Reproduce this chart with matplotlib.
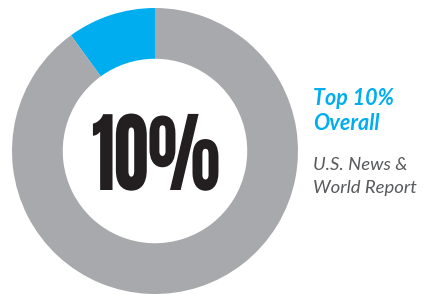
import matplotlib.pyplot as plt
from matplotlib.patheffects import AbstractPathEffect
from matplotlib.transforms import Affine2D

# Data
labels = ['Top 10%', 'Rest']
shares = [10, 90]
colors = ['#00aeef', '#a7a9ac']
center_label = '10%'
title_lines = ['Top 10%', 'Overall']
source_lines = ['U.S. News &', 'World Report']

W, H = 423, 294


class Squeeze(AbstractPathEffect):
    """Condense text horizontally around x = cx (display pixels)."""

    def __init__(self, sx, cx):
        super().__init__()
        self.sx = sx
        self.cx = cx

    def draw_path(self, renderer, gc, tpath, affine, rgbFace=None):
        squeeze = Affine2D().translate(-self.cx, 0).scale(self.sx, 1).translate(self.cx, 0)
        renderer.draw_path(gc, tpath, affine + squeeze, rgbFace)


fig = plt.figure(figsize=(W / 100, H / 100), dpi=100)
fig.patch.set_facecolor('white')

# donut axes: center ~(155,151), radius ~143 px
ax = fig.add_axes([(155 - 143) / W, (H - 151 - 143) / H, 286 / W, 286 / H])
ax.pie(shares, colors=colors, startangle=90, counterclock=True,
       radius=1.0, wedgeprops=dict(width=0.355, edgecolor='none'))
ax.set_xlim(-1, 1)
ax.set_ylim(-1, 1)
ax.set_aspect('equal')
ax.axis('off')

# big condensed number in the middle
big_font = ['Anton', 'Oswald', 'Bebas Neue', 'DejaVu Sans']
cx = 156
fig.text(cx / W, 1 - 190 / H, center_label, ha='center', va='baseline',
         fontsize=63.5, color='#231f20', family=big_font,
         path_effects=[Squeeze(0.77, cx)])

# right side labels
side_font = ['Lato', 'DejaVu Sans']
for i, line in enumerate(title_lines):
    fig.text(313 / W, 1 - (105 + 25 * i) / H, line, ha='left', va='baseline',
             fontsize=15.5, fontweight='bold', style='italic', color='#00aeef',
             family=side_font)

for i, line in enumerate(source_lines):
    fig.text(313 / W, 1 - (170 + 23 * i) / H, line, ha='left', va='baseline',
             fontsize=13.3, fontweight='normal', style='italic', color='#58595b',
             family=side_font)

plt.savefig('out.png', dpi=100)
plt.close()
